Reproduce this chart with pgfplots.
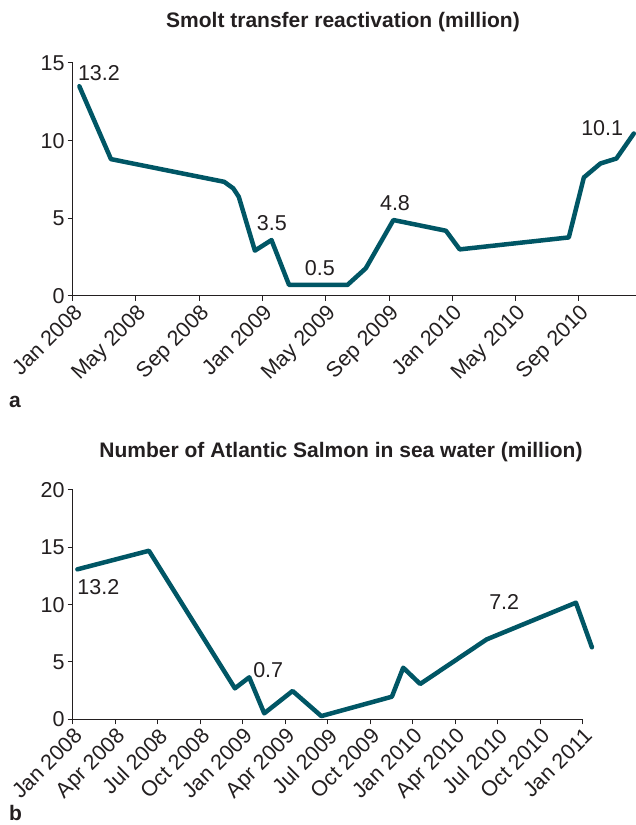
\documentclass[border=0pt]{standalone}
\usepackage{pgfplots}
\pgfplotsset{compat=1.18}
\usepackage{fontspec}
\setmainfont{Liberation Sans}
\definecolor{teal}{RGB}{0,86,101}
\definecolor{txt}{RGB}{35,31,32}
\newcommand{\lblfont}{\fontsize{21.5bp}{25bp}\selectfont}
\newcommand{\ttlfont}{\bfseries\fontsize{21bp}{24bp}\selectfont}
\pgfplotsset{
  salmon/.style={
    scale only axis,
    axis x line*=bottom, axis y line*=left,
    axis line style={line width=1bp, color=txt},
    tick style={line width=1bp, color=txt},
    tick align=outside, major tick length=5bp,
    xmin=0, ymin=0,
    clip=false,
    /pgf/number format/assume math mode=true,
    tick label style={font=\lblfont, text=txt},
    xticklabel style={rotate=45, anchor=north east, inner sep=1.5bp},
    yticklabel style={inner sep=3bp},
  }
}
\begin{document}
\begin{tikzpicture}[x=1bp,y=1bp]
\path[use as bounding box] (0,0) rectangle (636,825);
% title a
\node[font=\ttlfont, text=txt] at (343,803) {Smolt transfer reactivation (million)};
\node[font=\ttlfont, text=txt, anchor=base west, inner sep=0pt] at (9,417) {a};
\begin{axis}[salmon, at={(72.7bp,529bp)}, anchor=south west,
  width=563bp, height=233bp, xmax=35.6, ymax=15,
  xtick={0,4,8,12,16,20,24,28,32},
  xticklabels={Jan 2008,May 2008,Sep 2008,Jan 2009,May 2009,Sep 2009,Jan 2010,May 2010,Sep 2010},
  ytick={0,5,10,15}]
\addplot[teal, line width=4.5bp, line join=round, line cap=round] coordinates {
(0.42,13.5) (2.42,8.81) (9.58,7.35) (10.15,6.93) (10.5,6.39) (11.52,2.92) (12.57,3.6)
(13.68,0.71) (17.37,0.71) (18.53,1.78) (20.28,4.89) (23.6,4.2) (24.47,3.0)
(31.37,3.77) (32.32,7.63) (33.37,8.53) (34.38,8.85) (35.48,10.46)};
\node[font=\lblfont, text=txt] at (axis cs:1.66,14.34) {13.2};
\node[font=\lblfont, text=txt] at (axis cs:12.59,4.69) {3.5};
\node[font=\lblfont, text=txt] at (axis cs:15.63,1.8) {0.5};
\node[font=\lblfont, text=txt] at (axis cs:20.38,6.0) {4.8};
\node[font=\lblfont, text=txt] at (axis cs:33.48,10.78) {10.1};
\end{axis}
% title b
\node[font=\ttlfont, text=txt] at (341,373) {Number of Atlantic Salmon in sea water (million)};
\node[font=\ttlfont, text=txt, anchor=base west, inner sep=0pt] at (9,4.5) {b};
\begin{axis}[salmon, at={(72.7bp,105.7bp)}, anchor=south west,
  width=510bp, height=229.3bp, xmax=36, ymax=20,
  xtick={0,3,6,9,12,15,18,21,24,27,30,33,36},
  xticklabels={Jan 2008,Apr 2008,Jul 2008,Oct 2008,Jan 2009,Apr 2009,Jul 2009,Oct 2009,Jan 2010,Apr 2010,Jul 2010,Oct 2010,Jan 2011},
  ytick={0,5,10,15,20}]
\addplot[teal, line width=4.5bp, line join=round, line cap=round] coordinates {
(0.33,13.08) (5.38,14.7) (11.45,2.7) (12.46,3.66) (13.52,0.52) (15.52,2.47)
(17.55,0.28) (22.53,1.97) (23.33,4.5) (24.53,3.08) (29.22,6.97) (35.52,10.17) (36.65,6.28)};
\node[font=\lblfont, text=txt] at (axis cs:1.81,11.56) {13.2};
\node[font=\lblfont, text=txt] at (axis cs:13.8,4.3) {0.7};
\node[font=\lblfont, text=txt] at (axis cs:30.46,10.25) {7.2};
\end{axis}
\end{tikzpicture}
\end{document}
